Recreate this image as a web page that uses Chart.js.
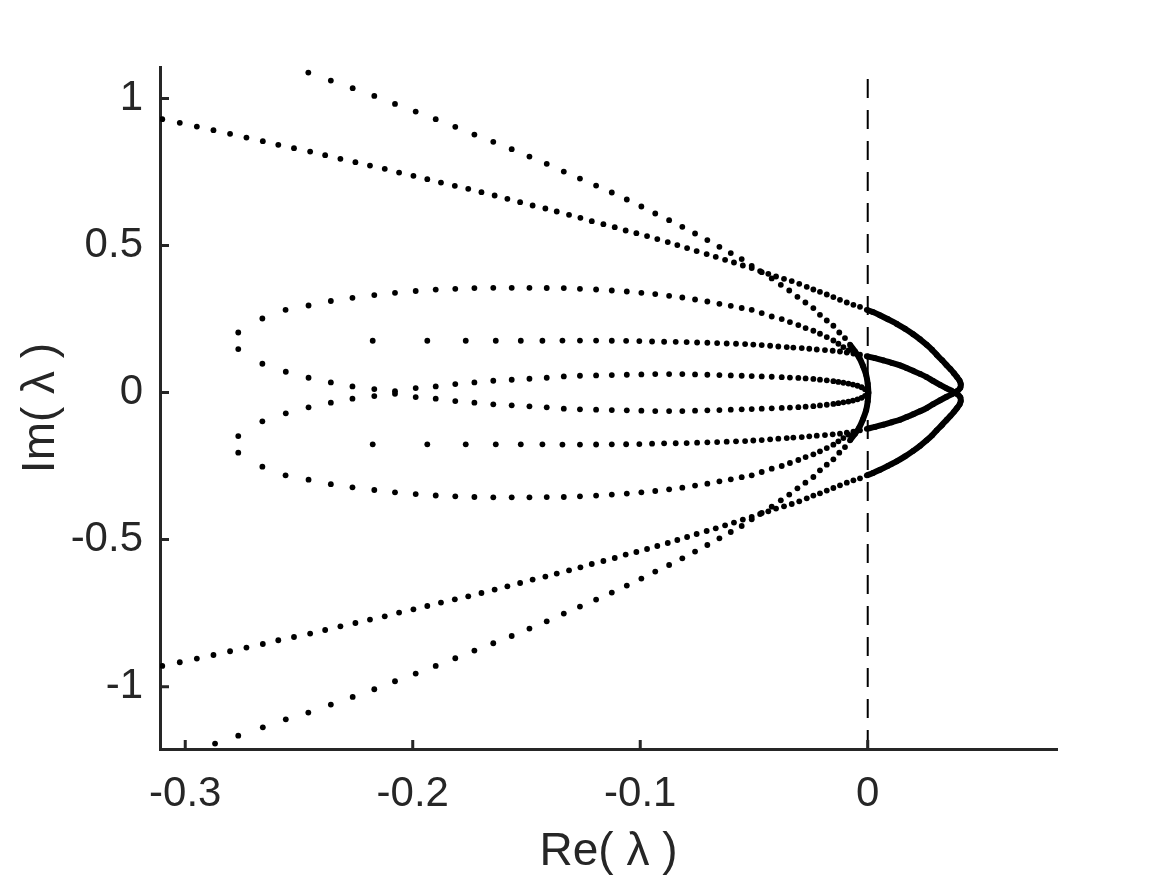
<!DOCTYPE html>
<html>
<head>
<meta charset="utf-8">
<script src="https://cdn.jsdelivr.net/npm/chart.js@4.4.1/dist/chart.umd.min.js"></script>
<style>
    html, body { margin: 0; padding: 0; background: #fff; }
    #wrap { width: 1169px; height: 878px; position: relative; }
</style>
</head>
<body>
<div id="wrap"><canvas id="eigChart"></canvas></div>
<script>
// axis limits and tick labels
var xMin = -0.3111, xMax = 0.0832;
var yMin = -1.212, yMax = 1.107;
var xTicks = [-0.3, -0.2, -0.1, 0];
var yTicks = [-1, -0.5, 0, 0.5, 1];

// eigenvalues [Re, Im], one array per branch
var shallowArmUpper = [[-0.3101,0.9296],[-0.3024,0.9171],[-0.2949,0.9045],[-0.2876,0.8923],[-0.2803,0.8797],[-0.2731,0.8671],[-0.2659,0.8549],[-0.2591,0.8423],[-0.2522,0.8311],[-0.2451,0.8195],[-0.2385,0.8073],[-0.2318,0.7947],[-0.2252,0.7835],[-0.2188,0.7719],[-0.2123,0.7607],[-0.2060,0.7481],[-0.1997,0.7369],[-0.1936,0.7257],[-0.1876,0.7141],[-0.1815,0.7029],[-0.1756,0.6927],[-0.1698,0.6815],[-0.1640,0.6700],[-0.1584,0.6587],[-0.1528,0.6475],[-0.1473,0.6360],[-0.1417,0.6258],[-0.1367,0.6156],[-0.1313,0.6043],[-0.1263,0.5942],[-0.1213,0.5829],[-0.1162,0.5727],[-0.1112,0.5625],[-0.1064,0.5510],[-0.1017,0.5421],[-0.0970,0.5320],[-0.0925,0.5218],[-0.0879,0.5116],[-0.0837,0.5014],[-0.0794,0.4912],[-0.0752,0.4810],[-0.0708,0.4708],[-0.0668,0.4616],[-0.0627,0.4514],[-0.0588,0.4422],[-0.0549,0.4320],[-0.0510,0.4232],[-0.0473,0.4130],[-0.0437,0.4038],[-0.0403,0.3946],[-0.0368,0.3868],[-0.0334,0.3790],[-0.0301,0.3698],[-0.0268,0.3596],[-0.0239,0.3504],[-0.0210,0.3426],[-0.0180,0.3334],[-0.0151,0.3246],[-0.0122,0.3154],[-0.0092,0.3063],[-0.0063,0.2984],[-0.0034,0.2916]];
var shallowArmLower = [[-0.3101,-0.9296],[-0.3024,-0.9171],[-0.2949,-0.9045],[-0.2876,-0.8923],[-0.2803,-0.8797],[-0.2731,-0.8671],[-0.2659,-0.8549],[-0.2591,-0.8423],[-0.2522,-0.8311],[-0.2451,-0.8195],[-0.2385,-0.8073],[-0.2318,-0.7947],[-0.2252,-0.7835],[-0.2188,-0.7719],[-0.2123,-0.7607],[-0.2060,-0.7481],[-0.1997,-0.7369],[-0.1936,-0.7257],[-0.1876,-0.7141],[-0.1815,-0.7029],[-0.1756,-0.6927],[-0.1698,-0.6815],[-0.1640,-0.6700],[-0.1584,-0.6587],[-0.1528,-0.6475],[-0.1473,-0.6360],[-0.1417,-0.6258],[-0.1367,-0.6156],[-0.1313,-0.6043],[-0.1263,-0.5942],[-0.1213,-0.5829],[-0.1162,-0.5727],[-0.1112,-0.5625],[-0.1064,-0.5510],[-0.1017,-0.5421],[-0.0970,-0.5320],[-0.0925,-0.5218],[-0.0879,-0.5116],[-0.0837,-0.5014],[-0.0794,-0.4912],[-0.0752,-0.4810],[-0.0708,-0.4708],[-0.0668,-0.4616],[-0.0627,-0.4514],[-0.0588,-0.4422],[-0.0549,-0.4320],[-0.0510,-0.4232],[-0.0473,-0.4130],[-0.0437,-0.4038],[-0.0403,-0.3946],[-0.0368,-0.3868],[-0.0334,-0.3790],[-0.0301,-0.3698],[-0.0268,-0.3596],[-0.0239,-0.3504],[-0.0210,-0.3426],[-0.0180,-0.3334],[-0.0151,-0.3246],[-0.0122,-0.3154],[-0.0092,-0.3063],[-0.0063,-0.2984],[-0.0034,-0.2916]];

// the two nose curves right of Re = 0 (dots merge into a solid stroke)
var noseUpper = [[-0.0004,0.2814],[0.0023,0.2736],[0.0054,0.2627],[0.0089,0.2492],[0.0127,0.2339],[0.0164,0.2169],[0.0200,0.1982],[0.0230,0.1812],[0.0259,0.1625],[0.0283,0.1455],[0.0303,0.1285],[0.0327,0.1098],[0.0347,0.0928],[0.0364,0.0792],[0.0379,0.0656],[0.0393,0.0520],[0.0404,0.0401],[0.0409,0.0282],[0.0407,0.0163],[0.0395,0.0061],[0.0373,-0.0041],[0.0347,-0.0143],[0.0318,-0.0262],[0.0287,-0.0398],[0.0259,-0.0527],[0.0230,-0.0636],[0.0200,-0.0738],[0.0171,-0.0833],[0.0142,-0.0925],[0.0105,-0.1010],[0.0069,-0.1094],[0.0032,-0.1169],[-0.0004,-0.1234]];
var noseLower = [[-0.0004,-0.2814],[0.0023,-0.2736],[0.0054,-0.2627],[0.0089,-0.2492],[0.0127,-0.2339],[0.0164,-0.2169],[0.0200,-0.1982],[0.0230,-0.1812],[0.0259,-0.1625],[0.0283,-0.1455],[0.0303,-0.1285],[0.0327,-0.1098],[0.0347,-0.0928],[0.0364,-0.0792],[0.0379,-0.0656],[0.0393,-0.0520],[0.0404,-0.0401],[0.0409,-0.0282],[0.0407,-0.0163],[0.0395,-0.0061],[0.0373,0.0041],[0.0347,0.0143],[0.0318,0.0262],[0.0287,0.0398],[0.0259,0.0527],[0.0230,0.0636],[0.0200,0.0738],[0.0171,0.0833],[0.0142,0.0925],[0.0105,0.1010],[0.0069,0.1094],[0.0032,0.1169],[-0.0004,0.1234]];

var middleRowUpper = [[-0.2176,0.1761],[-0.1936,0.1761],[-0.1767,0.1761],[-0.1635,0.1761],[-0.1525,0.1761],[-0.1430,0.1761],[-0.1342,0.1768],[-0.1265,0.1768],[-0.1194,0.1766],[-0.1125,0.1761],[-0.1062,0.1758],[-0.1004,0.1751],[-0.0948,0.1737],[-0.0895,0.1727],[-0.0844,0.1724],[-0.0796,0.1717],[-0.0750,0.1703],[-0.0705,0.1693],[-0.0662,0.1683],[-0.0620,0.1669],[-0.0579,0.1659],[-0.0539,0.1649],[-0.0503,0.1630],[-0.0466,0.1615],[-0.0429,0.1591],[-0.0393,0.1567],[-0.0356,0.1547],[-0.0327,0.1530],[-0.0290,0.1513],[-0.0257,0.1489],[-0.0224,0.1465],[-0.0188,0.1445],[-0.0154,0.1421],[-0.0122,0.1397],[-0.0092,0.1363],[-0.0063,0.1329],[-0.0034,0.1285]];
var middleRowLower = [[-0.2176,-0.1761],[-0.1936,-0.1761],[-0.1767,-0.1761],[-0.1635,-0.1761],[-0.1525,-0.1761],[-0.1430,-0.1761],[-0.1342,-0.1768],[-0.1265,-0.1768],[-0.1194,-0.1766],[-0.1125,-0.1761],[-0.1062,-0.1758],[-0.1004,-0.1751],[-0.0948,-0.1737],[-0.0895,-0.1727],[-0.0844,-0.1724],[-0.0796,-0.1717],[-0.0750,-0.1703],[-0.0705,-0.1693],[-0.0662,-0.1683],[-0.0620,-0.1669],[-0.0579,-0.1659],[-0.0539,-0.1649],[-0.0503,-0.1630],[-0.0466,-0.1615],[-0.0429,-0.1591],[-0.0393,-0.1567],[-0.0356,-0.1547],[-0.0327,-0.1530],[-0.0290,-0.1513],[-0.0257,-0.1489],[-0.0224,-0.1465],[-0.0188,-0.1445],[-0.0154,-0.1421],[-0.0122,-0.1397],[-0.0092,-0.1363],[-0.0063,-0.1329],[-0.0034,-0.1285]];

var steepArmUpper = [[-0.2459,1.0881],[-0.2360,1.0608],[-0.2264,1.0350],[-0.2169,1.0088],[-0.2078,0.9816],[-0.1987,0.9555],[-0.1899,0.9296],[-0.1813,0.9035],[-0.1729,0.8773],[-0.1646,0.8525],[-0.1565,0.8277],[-0.1487,0.8025],[-0.1411,0.7777],[-0.1336,0.7515],[-0.1265,0.7277],[-0.1194,0.7039],[-0.1125,0.6802],[-0.1059,0.6564],[-0.0995,0.6326],[-0.0934,0.6088],[-0.0873,0.5863],[-0.0815,0.5636],[-0.0759,0.5408],[-0.0705,0.5184],[-0.0652,0.4956],[-0.0602,0.4742],[-0.0554,0.4538],[-0.0510,0.4310],[-0.0466,0.4095],[-0.0422,0.3880],[-0.0382,0.3664],[-0.0345,0.3470],[-0.0309,0.3256],[-0.0274,0.3063],[-0.0239,0.2872],[-0.0210,0.2644],[-0.0180,0.2451],[-0.0151,0.2271],[-0.0125,0.2043],[-0.0100,0.1852]];
var steepArmLower = [[-0.2869,-1.1937],[-0.2767,-1.1666],[-0.2659,-1.1383],[-0.2558,-1.1111],[-0.2459,-1.0881],[-0.2360,-1.0608],[-0.2264,-1.0350],[-0.2169,-1.0088],[-0.2078,-0.9816],[-0.1987,-0.9555],[-0.1899,-0.9296],[-0.1813,-0.9035],[-0.1729,-0.8773],[-0.1646,-0.8525],[-0.1565,-0.8277],[-0.1487,-0.8025],[-0.1411,-0.7777],[-0.1336,-0.7515],[-0.1265,-0.7277],[-0.1194,-0.7039],[-0.1125,-0.6802],[-0.1059,-0.6564],[-0.0995,-0.6326],[-0.0934,-0.6088],[-0.0873,-0.5863],[-0.0815,-0.5636],[-0.0759,-0.5408],[-0.0705,-0.5184],[-0.0652,-0.4956],[-0.0602,-0.4742],[-0.0554,-0.4538],[-0.0510,-0.4310],[-0.0466,-0.4095],[-0.0422,-0.3880],[-0.0382,-0.3664],[-0.0345,-0.3470],[-0.0309,-0.3256],[-0.0274,-0.3063],[-0.0239,-0.2872],[-0.0210,-0.2644],[-0.0180,-0.2451],[-0.0151,-0.2271],[-0.0125,-0.2043],[-0.0100,-0.1852]];

// where the steep arms and loops pile up at the origin
var cuspUpper = [[-0.0078,0.1625],[-0.0056,0.1397],[-0.0037,0.1183],[-0.0021,0.0911],[-0.0007,0.0605],[0.0000,0.0299],[0.0003,0.0000]];
var cuspLower = [[-0.0078,-0.1625],[-0.0056,-0.1397],[-0.0037,-0.1183],[-0.0021,-0.0911],[-0.0007,-0.0605],[0.0000,-0.0299],[0.0003,0.0000]];

var loopOuterUpper = [[-0.2767,0.2043],[-0.2661,0.2519],[-0.2559,0.2814],[-0.2458,0.2961],[-0.2360,0.3114],[-0.2265,0.3222],[-0.2169,0.3314],[-0.2078,0.3392],[-0.1987,0.3453],[-0.1899,0.3501],[-0.1813,0.3528],[-0.1729,0.3552],[-0.1646,0.3562],[-0.1565,0.3562],[-0.1487,0.3562],[-0.1411,0.3555],[-0.1336,0.3552],[-0.1265,0.3528],[-0.1194,0.3504],[-0.1125,0.3470],[-0.1059,0.3436],[-0.0995,0.3392],[-0.0934,0.3348],[-0.0873,0.3290],[-0.0815,0.3233],[-0.0759,0.3164],[-0.0705,0.3097],[-0.0652,0.3018],[-0.0602,0.2950],[-0.0554,0.2876],[-0.0510,0.2814],[-0.0466,0.2702],[-0.0422,0.2587],[-0.0378,0.2498],[-0.0342,0.2396],[-0.0305,0.2294],[-0.0273,0.2192],[-0.0239,0.2101],[-0.0210,0.1999],[-0.0180,0.1886],[-0.0151,0.1771],[-0.0129,0.1659],[-0.0107,0.1547],[-0.0085,0.1431]];
var loopOuterLower = [[-0.2767,-0.2043],[-0.2661,-0.2519],[-0.2559,-0.2814],[-0.2458,-0.2961],[-0.2360,-0.3114],[-0.2265,-0.3222],[-0.2169,-0.3314],[-0.2078,-0.3392],[-0.1987,-0.3453],[-0.1899,-0.3501],[-0.1813,-0.3528],[-0.1729,-0.3552],[-0.1646,-0.3562],[-0.1565,-0.3562],[-0.1487,-0.3562],[-0.1411,-0.3555],[-0.1336,-0.3552],[-0.1265,-0.3528],[-0.1194,-0.3504],[-0.1125,-0.3470],[-0.1059,-0.3436],[-0.0995,-0.3392],[-0.0934,-0.3348],[-0.0873,-0.3290],[-0.0815,-0.3233],[-0.0759,-0.3164],[-0.0705,-0.3097],[-0.0652,-0.3018],[-0.0602,-0.2950],[-0.0554,-0.2876],[-0.0510,-0.2814],[-0.0466,-0.2702],[-0.0422,-0.2587],[-0.0378,-0.2498],[-0.0342,-0.2396],[-0.0305,-0.2294],[-0.0273,-0.2192],[-0.0239,-0.2101],[-0.0210,-0.1999],[-0.0180,-0.1886],[-0.0151,-0.1771],[-0.0129,-0.1659],[-0.0107,-0.1547],[-0.0085,-0.1431]];

var loopInnerUpper = [[-0.2767,0.1479],[-0.2661,0.0979],[-0.2558,0.0707],[-0.2458,0.0503],[-0.2360,0.0343],[-0.2265,0.0207],[-0.2169,0.0119],[-0.2078,0.0044],[-0.1987,0.0153],[-0.1899,0.0207],[-0.1813,0.0289],[-0.1729,0.0343],[-0.1646,0.0401],[-0.1565,0.0435],[-0.1487,0.0469],[-0.1411,0.0503],[-0.1336,0.0547],[-0.1265,0.0571],[-0.1194,0.0581],[-0.1125,0.0595],[-0.1059,0.0605],[-0.0995,0.0615],[-0.0934,0.0629],[-0.0873,0.0629],[-0.0815,0.0629],[-0.0759,0.0615],[-0.0705,0.0605],[-0.0652,0.0595],[-0.0602,0.0581],[-0.0554,0.0571],[-0.0510,0.0561],[-0.0466,0.0547],[-0.0422,0.0537],[-0.0378,0.0523],[-0.0342,0.0510],[-0.0305,0.0496],[-0.0273,0.0479],[-0.0239,0.0462],[-0.0210,0.0438],[-0.0180,0.0415],[-0.0151,0.0387],[-0.0129,0.0360],[-0.0107,0.0333],[-0.0085,0.0306],[-0.0065,0.0272],[-0.0045,0.0231],[-0.0027,0.0180],[-0.0012,0.0112],[0.0001,0.0027]];
var loopInnerLower = [[-0.2767,-0.1479],[-0.2661,-0.0979],[-0.2558,-0.0707],[-0.2458,-0.0503],[-0.2360,-0.0343],[-0.2265,-0.0207],[-0.2169,-0.0119],[-0.2078,-0.0044],[-0.1987,-0.0153],[-0.1899,-0.0207],[-0.1813,-0.0289],[-0.1729,-0.0343],[-0.1646,-0.0401],[-0.1565,-0.0435],[-0.1487,-0.0469],[-0.1411,-0.0503],[-0.1336,-0.0547],[-0.1265,-0.0571],[-0.1194,-0.0581],[-0.1125,-0.0595],[-0.1059,-0.0605],[-0.0995,-0.0615],[-0.0934,-0.0629],[-0.0873,-0.0629],[-0.0815,-0.0629],[-0.0759,-0.0615],[-0.0705,-0.0605],[-0.0652,-0.0595],[-0.0602,-0.0581],[-0.0554,-0.0571],[-0.0510,-0.0561],[-0.0466,-0.0547],[-0.0422,-0.0537],[-0.0378,-0.0523],[-0.0342,-0.0510],[-0.0305,-0.0496],[-0.0273,-0.0479],[-0.0239,-0.0462],[-0.0210,-0.0438],[-0.0180,-0.0415],[-0.0151,-0.0387],[-0.0129,-0.0360],[-0.0107,-0.0333],[-0.0085,-0.0306],[-0.0065,-0.0272],[-0.0045,-0.0231],[-0.0027,-0.0180],[-0.0012,-0.0112],[0.0001,-0.0027]];

var axisColor = '#262626';
var fontFamily = '"Liberation Sans", Arial, Helvetica, sans-serif';

function toPoints(list) {
    return list.map(function(p) { return {x: p[0], y: p[1]}; });
}

// sparse dots
function dotSet(list) {
    return {
        data: toPoints(list),
        showLine: false,
        pointRadius: 2.9,
        pointBorderWidth: 0,
        pointBackgroundColor: '#000'
    };
}

// dots packed so tight they read as a solid stroke
function strokeSet(list) {
    return {
        data: toPoints(list),
        showLine: true,
        borderColor: '#000',
        borderWidth: 6,
        tension: 0.3,
        pointRadius: 2.9,
        pointBorderWidth: 0,
        pointBackgroundColor: '#000'
    };
}

// MATLAB style ticks pointing into the plot
var inwardTicks = {
    id: 'inwardTicks',
    afterDraw: function(chart) {
        var ctx = chart.ctx;
        var area = chart.chartArea;
        var xs = chart.scales.x, ys = chart.scales.y;
        ctx.save();
        ctx.strokeStyle = axisColor;
        ctx.lineWidth = 3;
        ctx.beginPath();
        xTicks.forEach(function(v) {
            var px = xs.getPixelForValue(v);
            ctx.moveTo(px, area.bottom);
            ctx.lineTo(px, area.bottom - 9);
        });
        yTicks.forEach(function(v) {
            var py = ys.getPixelForValue(v);
            ctx.moveTo(area.left, py);
            ctx.lineTo(area.left + 9, py);
        });
        ctx.stroke();
        ctx.restore();
    }
};

document.addEventListener("DOMContentLoaded", function() {
    var ctx = document.getElementById('eigChart').getContext('2d');

    var zeroLine = {
        data: [{x: 0, y: yMin}, {x: 0, y: yMax}],
        showLine: true,
        borderColor: '#000',
        borderWidth: 2,
        borderDash: [19, 12],
        pointRadius: 0
    };

    new Chart(ctx, {
        type: 'scatter',
        data: {
            datasets: [
                dotSet(shallowArmUpper), dotSet(shallowArmLower),
                strokeSet(noseUpper), strokeSet(noseLower),
                dotSet(middleRowUpper), dotSet(middleRowLower),
                dotSet(steepArmUpper), dotSet(steepArmLower),
                strokeSet(cuspUpper), strokeSet(cuspLower),
                dotSet(loopOuterUpper), dotSet(loopOuterLower),
                dotSet(loopInnerUpper), dotSet(loopInnerLower),
                zeroLine
            ]
        },
        options: {
            responsive: true,
            maintainAspectRatio: false,
            animation: false,
            events: [],
            layout: { padding: { top: 67, right: 112, left: 0, bottom: 0 } },
            plugins: {
                legend: { display: false },
                tooltip: { enabled: false }
            },
            scales: {
                x: {
                    type: 'linear',
                    min: xMin,
                    max: xMax,
                    grid: { display: false, drawTicks: false },
                    border: { display: true, color: axisColor, width: 3 },
                    afterBuildTicks: function(scale) {
                        scale.ticks = xTicks.map(function(v) { return {value: v}; });
                    },
                    afterFit: function(scale) { scale.height = 129; },
                    ticks: {
                        color: axisColor,
                        padding: 20,
                        font: { family: fontFamily, size: 42 },
                        callback: function(v) { return String(v); }
                    },
                    title: {
                        display: true,
                        text: 'Re( λ )',
                        color: axisColor,
                        font: { family: fontFamily, size: 46, lineHeight: 1 },
                        padding: { top: 0, bottom: 3 }
                    }
                },
                y: {
                    type: 'linear',
                    min: yMin,
                    max: yMax,
                    grid: { display: false, drawTicks: false },
                    border: { display: true, color: axisColor, width: 3 },
                    afterBuildTicks: function(scale) {
                        scale.ticks = yTicks.map(function(v) { return {value: v}; });
                    },
                    afterFit: function(scale) { scale.width = 160; },
                    ticks: {
                        color: axisColor,
                        padding: 17,
                        font: { family: fontFamily, size: 42 },
                        callback: function(v) { return String(v); }
                    },
                    title: {
                        display: true,
                        text: 'Im( λ )',
                        color: axisColor,
                        font: { family: fontFamily, size: 46, lineHeight: 1 },
                        padding: { top: 18, bottom: 0 }
                    }
                }
            }
        },
        plugins: [inwardTicks]
    });
});
</script>
</body>
</html>
